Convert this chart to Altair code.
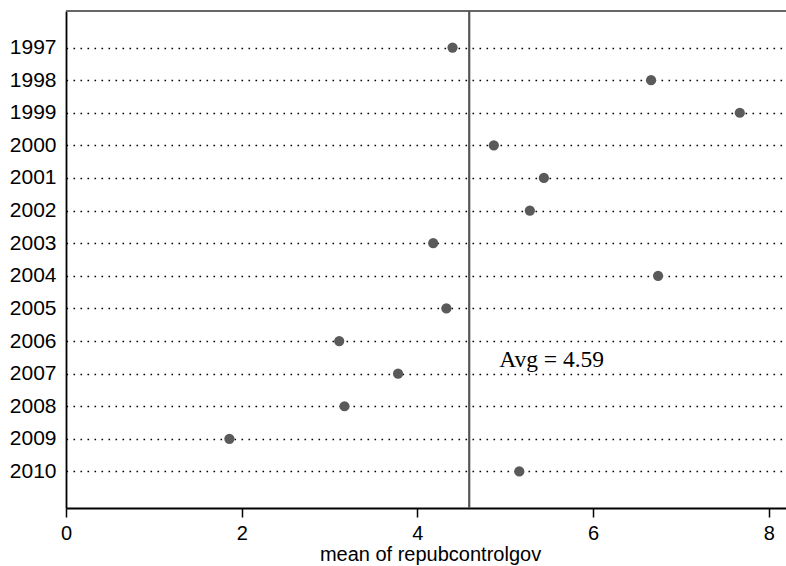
import altair as alt
import pandas as pd

years = ["1997", "1998", "1999", "2000", "2001", "2002", "2003",
         "2004", "2005", "2006", "2007", "2008", "2009", "2010"]
means = [4.40, 6.66, 7.67, 4.87, 5.44, 5.28, 4.18,
         6.74, 4.33, 3.11, 3.78, 3.17, 1.86, 5.16]
avg_value = 4.59
avg_label = "Avg = 4.59"
avg_label_row = "2006"
x_ticks = [0, 2, 4, 6, 8]
x_title = "mean of repubcontrolgov"

rows = list(range(len(years)))
df = pd.DataFrame({"year": years, "mean": means, "row": rows})

W, H = 720, 497
XMAX = 8.196
PAD = 1.12

xscale = alt.Scale(domain=[0, XMAX], nice=False, zero=False)
yscale = alt.Scale(domain=[-PAD, len(years) - 1 + PAD], nice=False, zero=False, reverse=True)
label_expr = "[" + ",".join('"%s"' % y for y in years) + "][datum.value]"

points = alt.Chart(df).mark_circle(size=105, color="#5a5a5a", opacity=1).encode(
    x=alt.X("mean:Q", scale=xscale,
            axis=alt.Axis(values=x_ticks, format="d", title=x_title, grid=False,
                          tickSize=9, tickColor="#000", tickWidth=1.5,
                          domainColor="#000", domainWidth=1.8,
                          labelFont="Liberation Sans", labelFontSize=20,
                          labelColor="#000", labelPadding=6,
                          titleFont="Liberation Sans", titleFontSize=20,
                          titleFontWeight="normal", titleColor="#000",
                          titlePadding=1, titleX=364, labelFlush=False)),
    y=alt.Y("row:Q", scale=yscale,
            axis=alt.Axis(title=None, ticks=False, grid=True, values=rows,
                          tickCount=len(years), labelOverlap=False,
                          labelExpr=label_expr,
                          gridColor="#000", gridDash=[1.6, 5.4], gridWidth=1.6,
                          domainColor="#000", domainWidth=1.8,
                          labelFont="Liberation Sans", labelFontSize=21,
                          labelColor="#000", labelPadding=10)),
)

avg_df = pd.DataFrame({"avg": [avg_value], "label": [avg_label],
                       "row": [years.index(avg_label_row)]})

avg_rule = alt.Chart(avg_df).mark_rule(color="#555555", strokeWidth=2.2).encode(
    x=alt.X("avg:Q", scale=xscale)
)

avg_text = alt.Chart(avg_df).mark_text(
    align="left", baseline="alphabetic", dx=30, dy=26,
    font="Liberation Serif", fontSize=23.5, color="#000"
).encode(
    x=alt.X("avg:Q", scale=xscale),
    y=alt.Y("row:Q", scale=yscale),
    text="label:N",
)

top_border = alt.Chart(avg_df).mark_rule(color="#666666", strokeWidth=2).encode(
    x=alt.value(0), x2=alt.value(W), y=alt.value(0)
)

chart = alt.layer(top_border, avg_rule, points, avg_text).properties(
    width=W, height=H,
    autosize=alt.AutoSizeParams(type="none"),
    padding={"left": 66, "top": 11, "right": 0, "bottom": 58},
    background="white",
).configure_view(stroke=None)

chart.save("out.html", embed_options={"renderer": "svg", "actions": False})
